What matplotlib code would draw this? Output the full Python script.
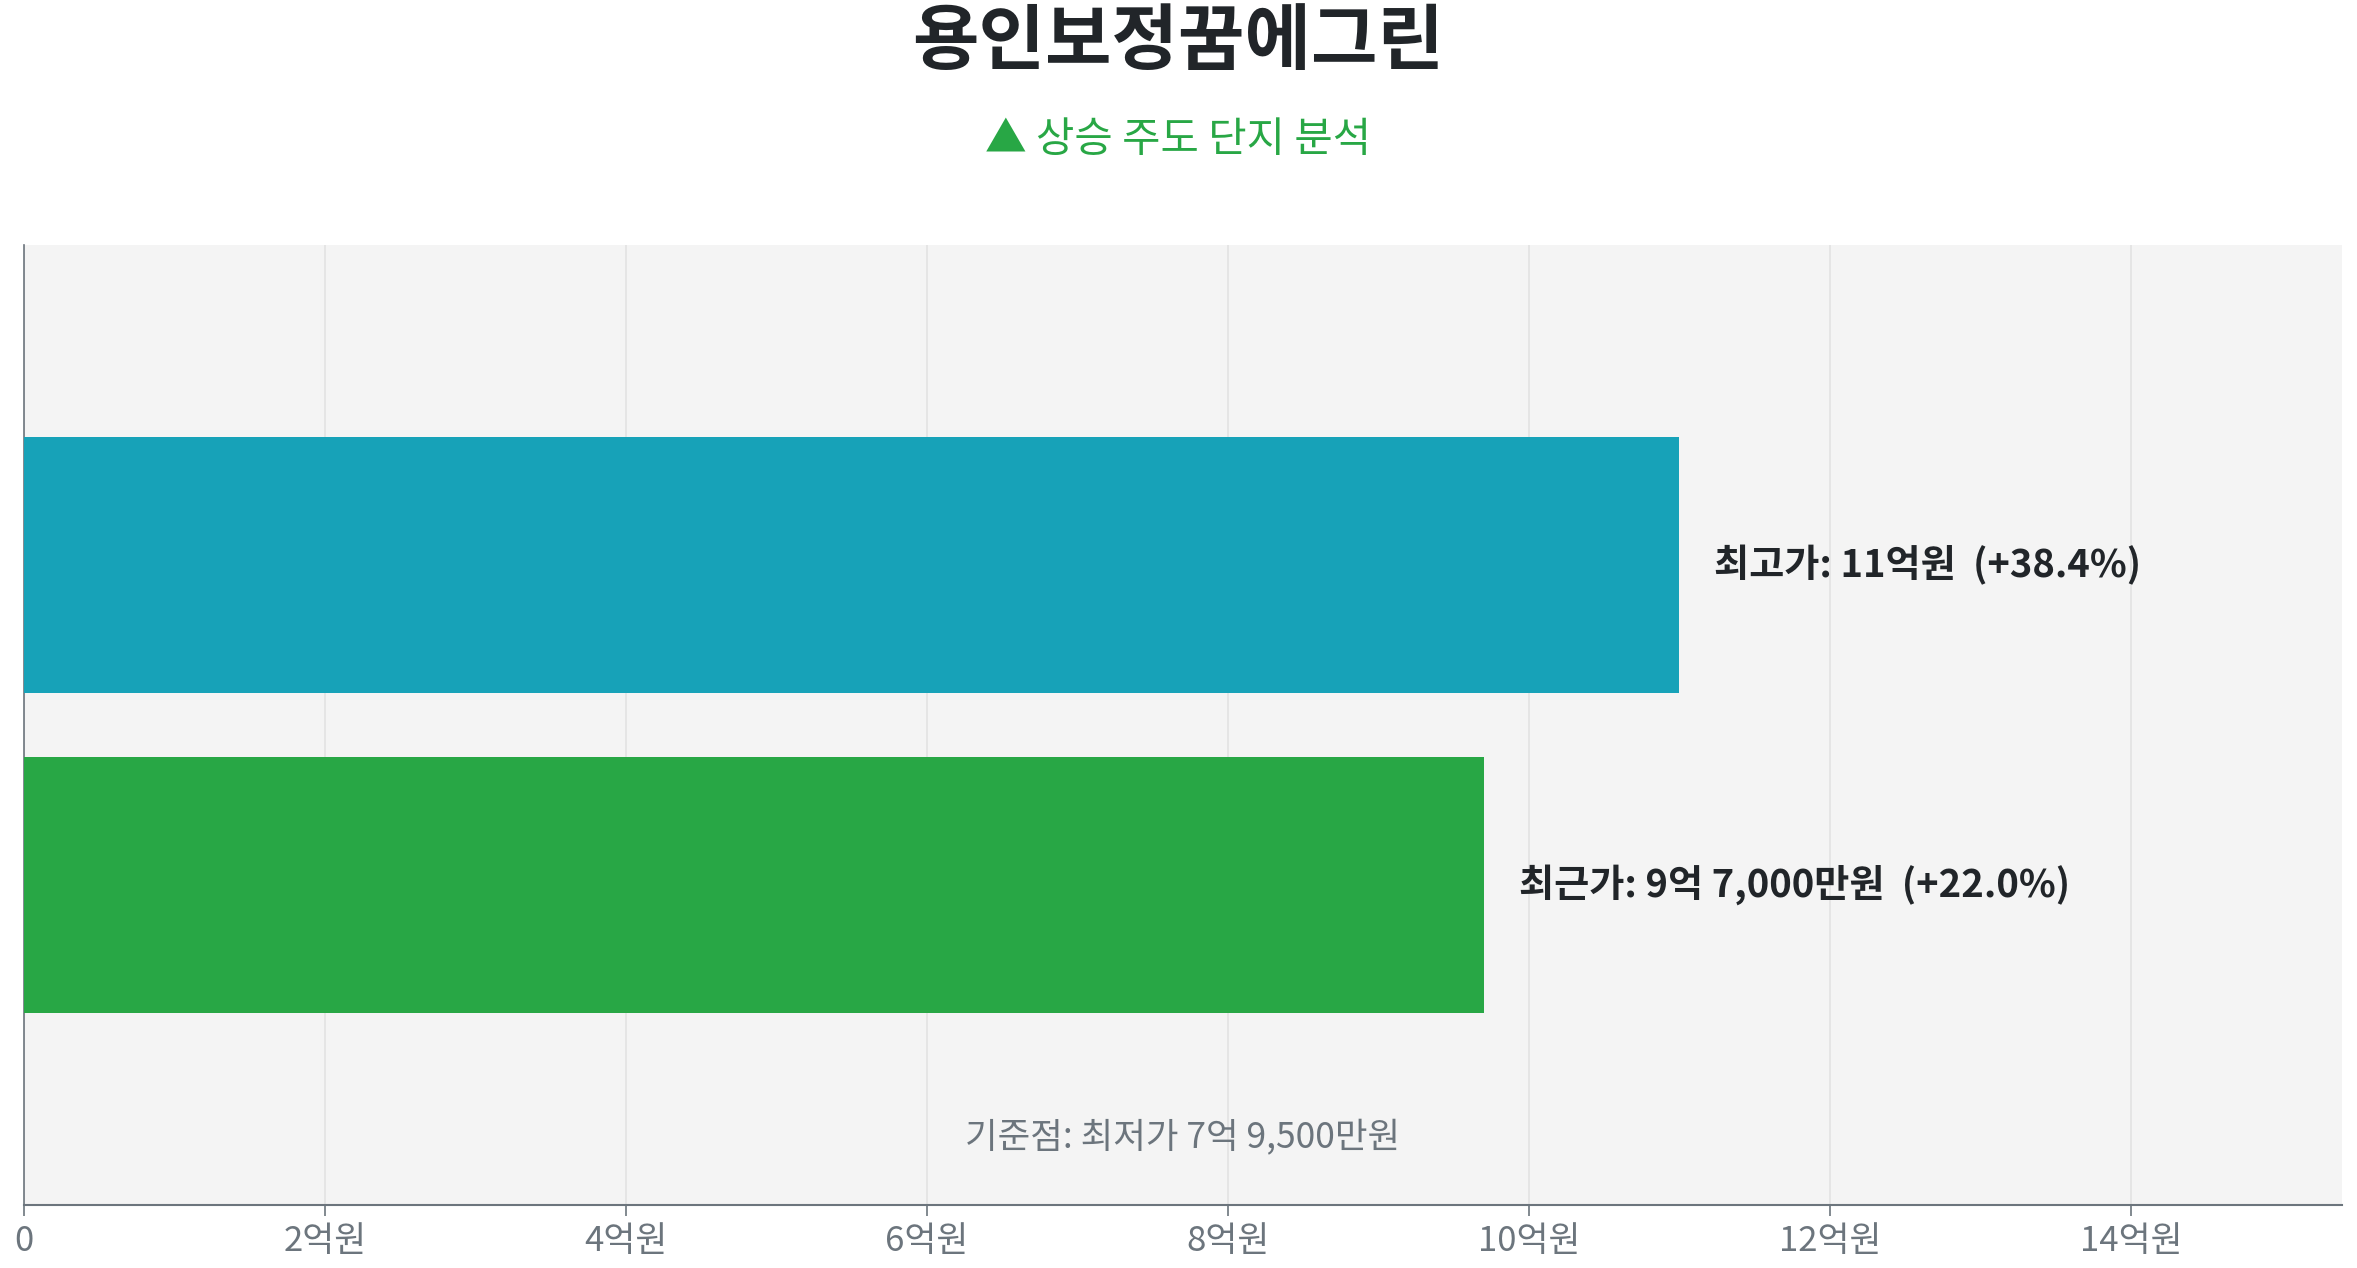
import matplotlib
matplotlib.use("Agg")
import matplotlib.pyplot as plt

plt.rcParams['font.family'] = ['Noto Sans CJK KR', 'DejaVu Sans']

# data (unit: 억원)
categories = ['최고가', '최근가']
values = [11.0, 9.7]
value_texts = ['11억원', '9억 7,000만원']
base_price = 7.95
base_text = '7억 9,500만원'
bar_colors = ['#17a2b8', '#28a745']

title = '용인보정꿈에그린'
subtitle = '▲ 상승 주도 단지 분석'

xmax = max(values) * 1.4
xticks = [0, 2, 4, 6, 8, 10, 12, 14]
xticklabels = ['0'] + ['%d억원' % t for t in xticks[1:]]

fig = plt.figure(figsize=(23.57, 12.68), dpi=100)
ax = fig.add_axes([0.0102, 0.0497, 0.9833, 0.7573])
ax.set_facecolor('#f4f4f4')

ypos = list(range(len(categories)))
ax.barh(ypos, values, height=0.8, color=bar_colors, zorder=3)

for y, v, cat, t in zip(ypos, values, categories, value_texts):
    pct = (v / base_price - 1) * 100
    ax.text(v + xmax * 0.015, y, '%s: %s  (+%.1f%%)' % (cat, t, pct),
            va='center', ha='left', fontsize=27.5, fontweight='bold',
            color='#212529', zorder=4)

ax.text(0.5, 0.07, '기준점: 최저가 ' + base_text, transform=ax.transAxes,
        ha='center', va='center', fontsize=25.5, color='#6c757d')

ax.set_xlim(0, xmax)
ax.set_ylim(len(categories), -1)
ax.set_xticks(xticks)
ax.set_xticklabels(xticklabels)
ax.set_yticks([])
ax.tick_params(axis='x', labelsize=25, colors='#6c757d', length=8, width=1.2, pad=6)
ax.grid(axis='x', color='#e2e2e2', linewidth=1.2, zorder=0)
ax.set_axisbelow(True)

for s in ['top', 'right']:
    ax.spines[s].set_visible(False)
ax.spines['left'].set_color('#6c757d')
ax.spines['bottom'].set_color('#6c757d')
ax.spines['left'].set_linewidth(1.2)
ax.spines['bottom'].set_linewidth(1.5)

fig.text(0.5, 0.966, title, ha='center', va='center', fontsize=52,
         fontweight='bold', color='#212529')
fig.text(0.5, 0.889, subtitle, ha='center', va='center', fontsize=30,
         color='#28a745')

fig.savefig('out.png', dpi=100, facecolor='white')
